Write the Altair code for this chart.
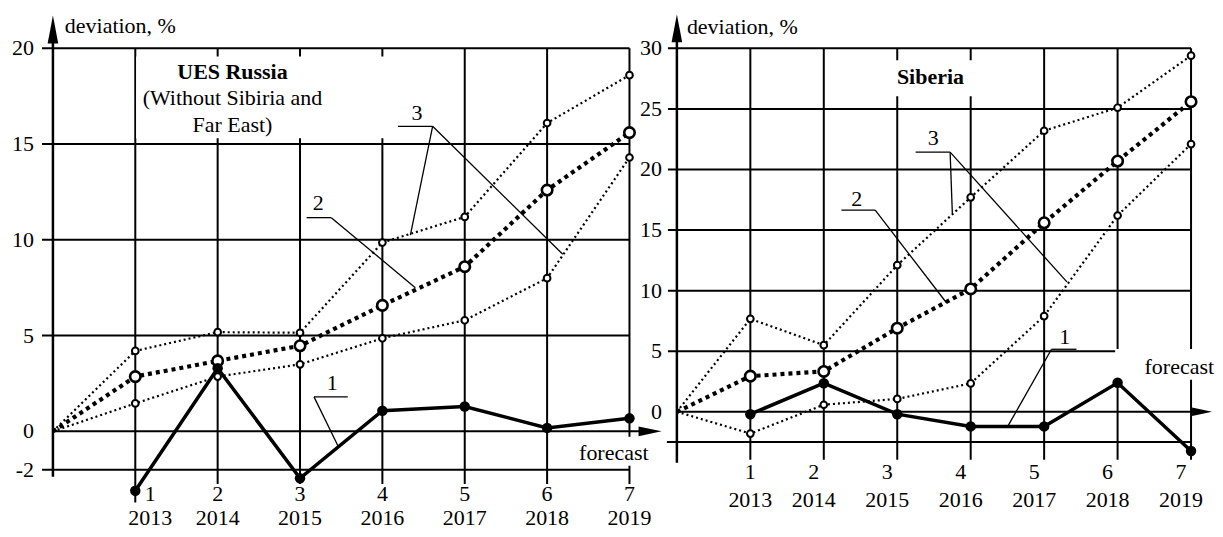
import altair as alt
import pandas as pd

# ---------------- data ----------------
steps = [1, 2, 3, 4, 5, 6, 7]
steps_from_origin = [0, 1, 2, 3, 4, 5, 6, 7]
years = ["2013", "2014", "2015", "2016", "2017", "2018", "2019"]

# UES Russia (without Siberia and Far East)
ues_curve1 = [-3.1, 3.3, -2.45, 1.08, 1.3, 0.18, 0.68]
ues_curve2 = [0, 2.86, 3.68, 4.47, 6.58, 8.6, 12.6, 15.6]
ues_curve3_upper = [0, 4.2, 5.18, 5.15, 9.86, 11.2, 16.1, 18.6]
ues_curve3_lower = [0, 1.46, 2.86, 3.5, 4.86, 5.8, 8.0, 14.3]
ues_tick_values = [20, 15, 10, 5, 0, -2]

# Siberia
sib_curve1 = [-0.2, 2.36, -0.2, -1.21, -1.21, 2.39, -3.24]
sib_curve2 = [0, 2.94, 3.33, 6.9, 10.14, 15.6, 20.7, 25.6]
sib_curve3_upper = [0, 7.67, 5.5, 12.1, 17.7, 23.2, 25.1, 29.4]
sib_curve3_lower = [0, -1.8, 0.58, 1.06, 2.34, 7.9, 16.2, 22.1]
sib_tick_values = [30, 25, 20, 15, 10, 5, 0]

FONT = "Liberation Serif"
FS = 22
PANEL_H = 521

# ---------------- layout (in data units of each panel) ----------------
UES = dict(
    width=647, height=PANEL_H,
    xdom=[-0.5455, 7.297], ydom=[-5.076, 22.085],
    grid_y=[20, 15, 10, 5, -2], grid_x0=[-0.133] * 5,
    ticks=ues_tick_values, tick_x=-0.23,
    vgrid_top=20, vgrid_bottom=[-3.72, -2.75, -2.75, -2.75, -2.75, -2.75, -2.75],
    yaxis_bottom=-2.37, yarrow=20.99, xarrow=7.25, xarrow_size=529,
    num_y=-3.25, year_y=-4.50, first_dx=15, rest_dx=0,
    ylabel=(0.145, 20.78),
    titles_bold=[("UES Russia", 2.18, 18.75)],
    titles=[("(Without Sibiria and", 2.18, 17.39),
            ("Far East)", 2.18, 15.99)],
    boxes=[(1.01, 4.15, 19.58, 15.31), (6.388, 7.236, -0.28, -1.79)],
    forecast=(6.81, -1.11),
    leaders=[(3.17, 1.80, 3.58, 1.80), (3.17, 1.80, 3.46, -0.75),
             (3.08, 11.16, 3.38, 11.16), (3.38, 11.16, 4.40, 7.5),
             (4.19, 15.93, 4.61, 15.93), (4.61, 15.93, 4.34, 10.25),
             (4.61, 15.93, 6.19, 9.25)],
    leader_labels=[("1", 3.39, 2.53), ("2", 3.22, 11.9), ("3", 4.42, 16.6)],
)

SIB = dict(
    width=560, height=PANEL_H,
    xdom=[-0.3126, 7.299], ydom=[-9.643, 33.297],
    grid_y=[30, 25, 20, 15, 10, 5, -2.5], grid_x0=[-0.122] * 6 + [-0.136],
    ticks=sib_tick_values, tick_x=-0.204,
    vgrid_top=30, vgrid_bottom=[-3.96] * 7,
    yaxis_bottom=-4.2, yarrow=31.65, xarrow=7.15, xarrow_size=400,
    num_y=-4.95, year_y=-7.25, first_dx=0, rest_dx=-10,
    ylabel=(0.136, 31.15),
    titles_bold=[("Siberia", 3.452, 27.61)],
    titles=[],
    boxes=[(2.95, 4.105, 29.01, 26.04), (5.967, 7.299, 5.19, 2.64)],
    forecast=(6.84, 3.71),
    leaders=[(5.10, 5.16, 5.44, 5.16), (5.10, 5.16, 4.51, -1.15),
             (2.24, 16.65, 2.70, 16.65), (2.70, 16.65, 3.67, 9.0),
             (3.25, 21.43, 3.72, 21.43), (3.72, 21.43, 3.75, 16.4),
             (3.72, 21.43, 5.31, 10.72)],
    leader_labels=[("1", 5.28, 6.2), ("2", 2.45, 17.6), ("3", 3.49, 22.6)],
)

ARROW_RIGHT = "M-1,-0.43L1,0L-1,0.43Z"
ARROW_UP = "M-0.38,1L0,-1L0.38,1Z"


def make_panel(cfg, c1, c2, c3u, c3l):
    xs = alt.Scale(domain=cfg["xdom"], nice=False, zero=False)
    ys = alt.Scale(domain=cfg["ydom"], nice=False, zero=False)

    def X(f):
        return alt.X(f, type="quantitative", scale=xs, axis=None)

    def Y(f):
        return alt.Y(f, type="quantitative", scale=ys, axis=None)

    txt = dict(font=FONT, fontSize=FS, color="black")

    # grid
    hg = pd.DataFrame({"y": cfg["grid_y"], "x": cfg["grid_x0"], "x2": [7] * len(cfg["grid_y"])})
    hgrid = alt.Chart(hg).mark_rule(color="black", strokeWidth=2).encode(x=X("x"), x2="x2", y=Y("y"))
    vg = pd.DataFrame({"x": steps, "y": cfg["vgrid_bottom"], "y2": [cfg["vgrid_top"]] * 7})
    vgrid = alt.Chart(vg).mark_rule(color="black", strokeWidth=2).encode(x=X("x"), y=Y("y"), y2="y2")

    # white boxes behind texts
    bx = pd.DataFrame(cfg["boxes"], columns=["x", "x2", "y", "y2"])
    boxes = alt.Chart(bx).mark_rect(color="white", opacity=1).encode(x=X("x"), x2="x2", y=Y("y"), y2="y2")

    # axes
    ya = pd.DataFrame({"x": [0], "y": [cfg["yaxis_bottom"]], "y2": [cfg["yarrow"]]})
    yaxis = alt.Chart(ya).mark_rule(color="black", strokeWidth=2.5).encode(x=X("x"), y=Y("y"), y2="y2")
    xa = pd.DataFrame({"x": [0], "x2": [cfg["xarrow"]], "y": [0]})
    xaxis = alt.Chart(xa).mark_rule(color="black", strokeWidth=2).encode(x=X("x"), x2="x2", y=Y("y"))
    yah = alt.Chart(pd.DataFrame({"x": [0], "y": [cfg["yarrow"]]})).mark_point(
        shape=ARROW_UP, size=784, filled=True, color="black", opacity=1, strokeWidth=0
    ).encode(x=X("x"), y=Y("y"))
    xah = alt.Chart(pd.DataFrame({"x": [cfg["xarrow"]], "y": [0]})).mark_point(
        shape=ARROW_RIGHT, size=cfg["xarrow_size"], filled=True, color="black", opacity=1, strokeWidth=0
    ).encode(x=X("x"), y=Y("y"))

    # tick labels
    tl = pd.DataFrame({"y": cfg["ticks"], "label": [str(v) for v in cfg["ticks"]],
                       "x": [cfg["tick_x"]] * len(cfg["ticks"])})
    ylabels = alt.Chart(tl).mark_text(align="right", baseline="middle", **txt).encode(
        x=X("x"), y=Y("y"), text="label:N")

    xl = pd.DataFrame({"x": steps, "num": [str(s) for s in steps], "year": years,
                       "yn": [cfg["num_y"]] * 7, "yy": [cfg["year_y"]] * 7})
    first = xl[xl["x"] == 1]
    rest = xl[xl["x"] > 1]
    xlab = []
    for d, dx in ((first, cfg["first_dx"]), (rest, cfg["rest_dx"])):
        xlab.append(alt.Chart(d).mark_text(align="center", baseline="middle", dx=dx, **txt).encode(
            x=X("x"), y=Y("yn"), text="num:N"))
        xlab.append(alt.Chart(d).mark_text(align="center", baseline="middle", dx=dx, **txt).encode(
            x=X("x"), y=Y("yy"), text="year:N"))

    # axis title
    yl = pd.DataFrame({"x": [cfg["ylabel"][0]], "y": [cfg["ylabel"][1]], "t": ["deviation, %"]})
    ytitle = alt.Chart(yl).mark_text(align="left", baseline="alphabetic", **txt).encode(
        x=X("x"), y=Y("y"), text="t:N")

    # panel titles
    title_layers = []
    tb = pd.DataFrame(cfg["titles_bold"], columns=["t", "x", "y"])
    title_layers.append(alt.Chart(tb).mark_text(align="center", baseline="middle", fontWeight="bold", **txt).encode(
        x=X("x"), y=Y("y"), text="t:N"))
    if cfg["titles"]:
        tn = pd.DataFrame(cfg["titles"], columns=["t", "x", "y"])
        title_layers.append(alt.Chart(tn).mark_text(align="center", baseline="middle", **txt).encode(
            x=X("x"), y=Y("y"), text="t:N"))

    fc = pd.DataFrame({"x": [cfg["forecast"][0]], "y": [cfg["forecast"][1]], "t": ["forecast"]})
    forecast = alt.Chart(fc).mark_text(align="center", baseline="middle", **txt).encode(
        x=X("x"), y=Y("y"), text="t:N")

    # leader lines
    ld = pd.DataFrame(cfg["leaders"], columns=["x", "y", "x2", "y2"])
    leaders = alt.Chart(ld).mark_rule(color="black", strokeWidth=1.3).encode(
        x=X("x"), y=Y("y"), x2="x2", y2="y2")
    ll = pd.DataFrame(cfg["leader_labels"], columns=["t", "x", "y"])
    leader_labels = alt.Chart(ll).mark_text(align="center", baseline="middle", **txt).encode(
        x=X("x"), y=Y("y"), text="t:N")

    # series
    s1 = pd.DataFrame({"step": steps, "v": c1})
    s2 = pd.DataFrame({"step": steps_from_origin, "v": c2})
    s3 = pd.concat([
        pd.DataFrame({"step": steps_from_origin, "v": c3u, "s": "upper"}),
        pd.DataFrame({"step": steps_from_origin, "v": c3l, "s": "lower"}),
    ])
    line3 = alt.Chart(s3).mark_line(color="black", strokeWidth=2.2, strokeDash=[2, 3]).encode(
        x=X("step"), y=Y("v"), detail="s:N")
    line2 = alt.Chart(s2).mark_line(color="black", strokeWidth=4.2, strokeDash=[4, 4]).encode(
        x=X("step"), y=Y("v"))
    line1 = alt.Chart(s1).mark_line(color="black", strokeWidth=3.5).encode(x=X("step"), y=Y("v"))
    pts3 = alt.Chart(s3[s3["step"] > 0]).mark_point(
        shape="circle", filled=True, fill="white", stroke="black", strokeWidth=2, size=45, opacity=1
    ).encode(x=X("step"), y=Y("v"))
    pts2 = alt.Chart(s2[s2["step"] > 0]).mark_point(
        shape="circle", filled=True, fill="white", stroke="black", strokeWidth=2.6, size=110, opacity=1
    ).encode(x=X("step"), y=Y("v"))
    pts1 = alt.Chart(s1).mark_point(
        shape="circle", filled=True, color="black", size=110, opacity=1
    ).encode(x=X("step"), y=Y("v"))

    return alt.layer(
        hgrid, vgrid, boxes, yaxis, xaxis, yah, xah, ylabels, *xlab, ytitle, *title_layers, forecast,
        leaders, leader_labels, line3, line2, line1, pts3, pts2, pts1
    ).properties(width=cfg["width"], height=cfg["height"])


left = make_panel(UES, ues_curve1, ues_curve2, ues_curve3_upper, ues_curve3_lower)
right = make_panel(SIB, sib_curve1, sib_curve2, sib_curve3_upper, sib_curve3_lower)

chart = alt.hconcat(left, right, spacing=0, bounds="flush", padding=0).configure_view(stroke=None)

chart.save("out.html", embed_options={"renderer": "svg", "actions": False})
